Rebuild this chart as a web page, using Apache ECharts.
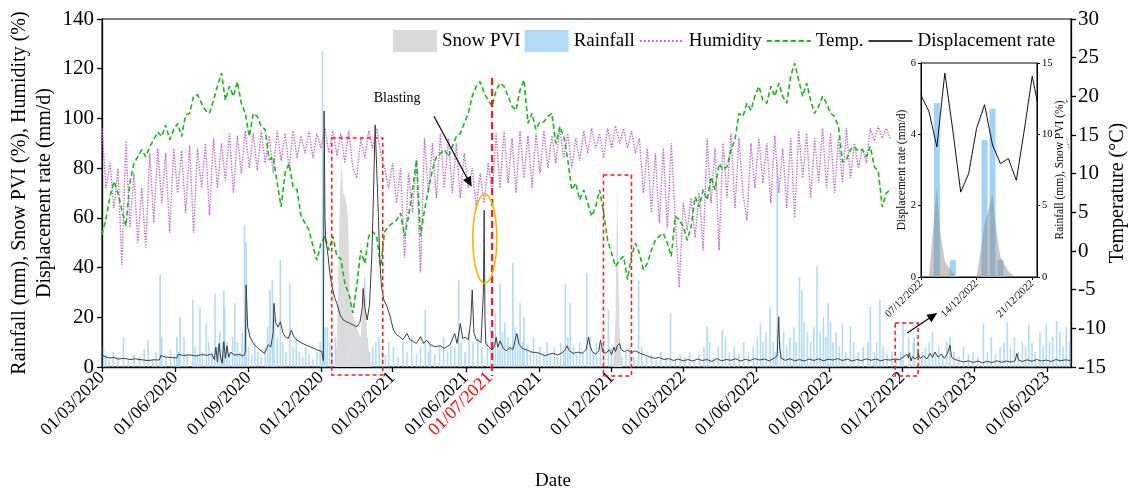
<!DOCTYPE html>
<html><head><meta charset="utf-8">
<script src="https://cdn.jsdelivr.net/npm/echarts@6/dist/echarts.min.js"></script>
<style>html,body{margin:0;padding:0;background:#fff}#c{width:1131px;height:492px}</style>
</head><body><div id="c"></div>
<script>
// ---------- DATA (day index d = days since 01/03/2020) ----------
const tempStep = 5; // Temperature (°C), one reading every 5 days from 01/03/2020
const tempVals = [
 2.1,4.2,7.0,9.0,7.5,5.3,3.2,8.8,11.3,12.2,
 13.1,12.2,13.5,14.4,15.4,14.8,16.3,14.4,15.7,16.5,
 14.8,17.6,17.8,20.0,20.2,19.1,18.2,17.8,19.5,21.3,
 23.0,19.5,21.3,20.0,21.9,19.1,17.8,14.8,17.8,17.4,
 16.1,15.7,11.8,12.2,8.8,5.7,10.1,11.3,8.3,7.9,
 4.5,3.6,2.7,0.6,-1.2,1.0,1.9,0.1,1.9,-0.7,
 -1.0,-4.2,-5.5,-8.0,-4.5,0.1,-1.6,1.9,2.5,1.9,
 -2.0,2.5,3.2,3.6,4.0,4.9,1.9,4.5,7.9,11.8,
 1.9,5.3,7.9,10.5,12.2,12.6,13.1,12.2,13.5,14.8,
 15.2,16.5,17.8,20.0,21.3,21.9,20.4,19.5,18.7,20.8,
 21.7,21.3,20.0,18.7,18.2,20.8,22.1,16.5,17.8,15.7,
 16.7,16.7,17.4,17.8,13.9,16.1,14.8,11.8,7.9,8.8,
 6.6,7.9,6.2,4.5,5.7,7.9,4.9,1.4,-0.3,-2.0,
 -1.2,-0.7,-3.7,-0.7,1.0,-0.3,-2.4,-1.6,0.1,1.4,
 1.9,2.3,1.0,-0.7,4.5,4.0,3.2,1.4,3.2,7.0,
 5.7,7.9,6.6,9.6,7.9,11.3,10.5,10.9,13.1,14.4,
 17.8,17.4,19.1,18.2,20.0,21.3,19.5,19.1,21.3,20.0,
 21.7,20.0,19.1,22.6,24.3,22.1,20.0,21.7,19.5,17.8,
 18.7,20.0,19.1,17.8,17.4,16.1,11.5,11.8,13.1,13.5,
 12.9,13.1,12.2,13.5,10.9,10.3,5.7,7.5,7.9
];
const tempTail = [[1200,17.6],[1205,18.8],[1210,19.6],[1215,18.9]];

const humStep = 5; // Humidity (%), one reading every 5 days
const humVals = [
 96,72,82,64,80,41,91,56,78,50,
 72,48,86,58,88,66,86,54,88,70,
 87,62,89,54,88,72,90,61,92,72,
 90,75,94,70,93,78,95,80,94,79,
 95,82,93,78,95,83,94,80,95,84,
 93,86,95,84,94,88,96,86,95,85,
 94,82,95,80,76,92,84,95,88,96,
 86,80,72,82,66,80,44,78,62,84,
 38,92,70,90,68,94,72,92,70,90,
 68,86,72,80,64,78,66,82,70,94,
 72,95,74,92,70,95,76,93,72,94,
 78,95,80,93,82,96,84,94,80,92,
 83,95,86,96,88,94,84,96,88,97,
 90,96,88,95,86,92,70,88,62,86,
 58,88,56,90,60,32,66,55,68,52,
 70,47,92,66,88,47,90,68,94,64,
 92,70,59,90,72,92,74,90,66,93,
 70,88,64,92,60,95,76,94,68,92,
 74,96,72,94,70,92,74,96,76,90,
 80,88,82,96,91,97,92,96,92
];
const humTail = [[1200,90],[1205,85],[1210,93],[1215,88]];

// Displacement rate (mm/d): [day, value]
const dispPts = [
 [0,4.8],[5,4.0],[10,3.6],[15,3.9],[20,3.2],[28,3.5],[35,3.0],[42,3.3],[50,2.9],[58,2.6],[65,2.9],[72,2.8],[74,4.6],[80,4.0],[88,3.8],[94,3.6],[96,5.2],[102,4.6],[110,4.9],[118,4.4],[125,5.0],[132,4.7],[138,5.2],[141,3.0],[143,8.0],[145,2.0],[147,9.5],[149,4.0],[151,1.5],[153,10.2],[155,3.5],[157,8.5],[159,4.0],[162,6.0],[166,4.8],[172,5.0],[178,4.5],[180,6.0],[181,33],[183,16],[186,12],[190,9.5],[195,7.8],[200,6.5],[204,5.5],[207,7.5],[209,9.0],[212,8.0],[215,14],[216,25.6],[218,18],[221,16],[224,18.2],[227,14],[230,12.2],[234,11.5],[238,14.9],[241,12],[245,10.8],[250,9.8],[255,9.0],[261,8.2],[266,7.5],[271,6.8],[276,6.2],[278,2.5],[279,103],[280,60],[281,51],[283,47],[284,44.4],[286,38],[289,32.3],[292,28],[295,25.6],[299,21],[303,18.9],[308,18],[312,17.5],[316,16.8],[320,16.2],[324,18],[327,24],[328,31.6],[330,24],[333,18.9],[336,25],[339,45.7],[341,70],[343,97.4],[345,80],[347,61.8],[349,42],[351,32.3],[354,27],[358,24.3],[362,20.2],[366,14.9],[370,13],[374,12.2],[378,11],[383,13.5],[387,11],[391,10.2],[395,9.5],[400,12.2],[404,9.5],[408,10.8],[412,9],[418,8.2],[425,8.5],[430,7.5],[437,9.0],[443,13.5],[446,9.5],[450,17.5],[453,11.5],[456,12],[460,11],[463,18],[465,31],[467,14],[470,11.0],[473,10.5],[476,9.8],[478,10],[479,30],[480,63.1],[481,20],[482,9.5],[486,8.0],[490,6.8],[493,8.5],[495,12],[497,8.0],[500,10.5],[504,7.5],[508,6.5],[512,7.8],[516,7.0],[521,13.5],[524,9.0],[528,7.5],[534,6.8],[540,6.0],[545,5.8],[550,5.5],[556,4.5],[562,5.2],[567,5.5],[572,4.8],[577,5.6],[581,6.5],[584,8.5],[587,6.5],[592,5.5],[598,6.0],[603,5.5],[608,7.0],[611,12],[613,8.5],[616,6.0],[620,5.2],[624,6.5],[626,10.8],[629,6.0],[633,5.5],[637,7.0],[640,5.0],[643,8.0],[645,6.2],[647,8.5],[650,9.5],[652,7.0],[656,6.2],[660,6.8],[665,5.8],[670,6.5],[676,5.5],[682,4.8],[688,4.0],[694,3.5],[700,3.8],[706,3.0],[712,3.4],[718,2.6],[724,3.2],[730,2.5],[736,3.0],[742,2.4],[748,3.2],[754,2.6],[760,3.0],[766,2.2],[772,3.4],[778,2.5],[784,3.0],[790,2.7],[796,3.3],[802,2.4],[808,3.1],[814,2.6],[820,3.4],[826,2.8],[832,3.2],[838,2.5],[844,3.5],[848,4.5],[850,20.2],[851,8],[853,3.5],[858,2.7],[864,3.3],[870,2.5],[876,3.0],[882,2.4],[888,3.2],[894,2.6],[900,3.3],[906,2.5],[912,3.1],[918,2.8],[924,3.4],[930,2.6],[936,3.2],[942,2.4],[948,3.0],[954,2.6],[960,3.3],[966,2.7],[972,3.2],[978,2.5],[984,3.0],[990,2.8],[996,3.2],[1002,2.9],[1006,4.0],[1008,3.5],
 [1028,3.5],[1032,4.5],[1036,3.2],[1040,5.5],[1043,3.8],[1046,6.0],[1048,6.8],[1050,4.0],[1054,5.2],[1058,3.5],[1062,5.5],[1065,8.8],[1067,4.0],[1071,3.0],[1076,2.6],[1082,2.0],[1088,2.5],[1094,1.8],[1100,2.4],[1106,1.7],[1112,2.3],[1118,1.8],[1124,2.5],[1130,1.9],[1136,2.4],[1142,2.0],[1147,2.6],[1149,5.5],[1151,2.8],[1156,2.2],[1162,2.9],[1168,2.3],[1174,3.0],[1180,2.4],[1186,2.8],[1192,2.2],[1198,3.0],[1204,2.5],[1210,2.9],[1216,2.6]
];

// Rainfall (mm): [day, value]
const rainPts = [
 [2,8],[5,5],[9,3],[14,6],[20,4],[27,12],[33,3],[40,5],[47,4],[53,7],[58,10.8],[64,3],[68,6],[73,37],[75,12],[80,4],[86,7],[91,5],[94,12],[96,6],[98,20],[103,12],[107,5],[114,27],[117,8],[120,5],[123,24],[126,6],[131,17.5],[134,10],[138,6],[142,29.6],[145,8],[148,14],[151,10],[153,31],[154,24],[157,10],[160,6],[164,12],[167,25.6],[170,10],[173,6],[176,14],[179,57],[181,50],[184,8],[188,5],[192,10],[196,6],[200,4],[205,8],[208,16],[211,31],[214,35],[216,20],[220,12],[224,43],[227,10],[231,6],[236,33.6],[240,8],[244,12],[248,6],[252,4],[256,8],[260,5],[265,3],[270,6],[274,10],[277,127],[278,30],[280,16],[283,16],[286,10],[289,6],[293,12],[297,8],[301,19],[305,10],[309,12],[313,6],[317,8],[321,14],[325,10],[330,36],[333,12],[336,6],[340,8],[344,10],[348,12],[352,6],[356,5],[360,10],[366,8],[372,4],[378,10],[383,6],[389,12],[395,5],[400,8],[406,22.9],[410,6],[412,10],[418,5],[424,8],[429,12],[434,6],[438,10],[443,8],[448,35],[451,10],[456,6],[461,14],[466,10],[472,12],[477,8],[484,10],[488,16],[491,14],[494,21.6],[497,10],[500,33.6],[503,14],[506,18],[510,12],[513,8],[516,41.7],[519,16],[522,12],[525,25.6],[528,10],[530,20],[534,8],[538,6],[542,12],[546,5],[550,8],[555,6],[559,10],[563,5],[568,8],[572,4],[576,10],[580,6],[582,33.6],[585,12],[588,25.6],[592,8],[596,5],[600,10],[604,6],[609,37.7],[613,12],[617,6],[621,10],[626,8],[630,12],[636,22.9],[640,8],[644,5],[648,10],[653,4],[658,6],[663,8],[668,4],[674,35],[678,8],[684,4],[690,5],[696,3],[702,6],[708,4],[714,21.6],[720,3],[726,5],[732,4],[738,6],[744,3],[750,5],[756,8],[760,16.2],[763,10],[768,4],[774,8],[779,14.9],[783,12],[788,6],[794,8],[800,5],[806,10],[812,6],[818,8],[823,12],[827,17.5],[830,10],[834,14],[839,24.3],[843,10],[846,6],[848,82],[852,10],[856,14],[860,8],[864,12],[869,16],[872,10],[876,36.3],[879,31],[882,18],[886,14],[890,10],[894,16],[898,40.3],[902,14],[906,20],[909,12],[912,25.6],[915,18],[918,10],[922,14],[926,8],[930,17.5],[934,6],[940,16.2],[944,10],[950,6],[956,8],[962,10],[965,24.3],[970,6],[973,10],[977,27],[981,8],[986,5],[992,6],[998,4],[1003,6],[1006,17.7],
 [1026,4],[1030,6],[1034,8],[1039,10],[1043,14],[1047,6],[1051,8],[1056,5],[1061,10],[1065,12],[1070,6],[1076,4],[1082,8],[1088,5],[1094,6],[1100,4],[1107,17.5],[1112,6],[1117,12],[1122,5],[1128,8],[1133,10],[1137,18],[1141,8],[1146,12],[1151,6],[1156,10],[1160,8],[1164,17],[1168,10],[1172,6],[1178,14],[1182,8],[1186,17.5],[1190,10],[1194,12],[1199,19],[1203,14],[1207,8],[1211,16],[1215,10]
];

// Snow PVI (%): [day, value]; null separates winters
const snowPts = [
 [292,0],[295,10],[297,40],[299,70],[301,83],[303,70],[306,68],[309,60],[311,30],[314,22],[318,18],[322,14],[325,12],[327,25],[329,34],[331,28],[333,12],[336,4],[339,0],[340,null],
 [642,0],[645,20],[647,74],[649,30],[651,8],[653,0],[654,null]
];

// Inset (December 2022), x = day of month
const insetDispDays = [7,8,9,10,11,12,13,14,15,16,17,18,19,20,21,22];
const insetDisp     = [5.1,4.64,3.65,5.72,4.12,2.38,2.9,4.17,4.83,3.7,3.18,3.32,2.71,4.12,5.63,4.5];
const insetRainDays = [9,11,15,16,17];
const insetRain     = [12.2,1.2,9.6,11.8,1.2];
const insetSnow = [[8,0],[9,6.4],[9.4,3.2],[10,1.1],[11,0.3],[11.3,0],[12,null],[14,0],[15,3.7],[16,5.8],[16.5,3.2],[17,1.4],[18,0.4],[18.8,0]];

// Axis ticks (year, month index)
const tickMonths = [[2020,2],[2020,5],[2020,8],[2020,11],[2021,2],[2021,5],[2021,8],[2021,11],[2022,2],[2022,5],[2022,8],[2022,11],[2023,2],[2023,5]];
const redMonth = [2021,6];
const insetTickDays = [7,14,21];

// Annotations (day, value)
const annoBoxes = [[288.6,352.6,92.1,-3.2],[629.8,665,77.2,-3.6],[996.2,1025,17.7,-3.6]];
const annoVLine = [490,116.3,-3.6];
const annoEllipse = [480.8,51.6];
const annoText = [370.6,108.2];
const annoArrows = [[[417,100.9],[464.3,72.5]],[[1011.3,13.7],[1049,21.7]]];

// ---------- BUILD ----------
const DAY = 86400000;
const T0 = new Date(2020,2,1).getTime();
const t = d => T0 + d*DAY;
const DEC0 = new Date(2022,11,0).getTime();
const td = k => DEC0 + k*DAY;     // inset day of December 2022
const decToD = k => 1004 + k;     // Dec k, 2022 -> main day index
const FONT = 'Liberation Serif';
const pad = n => (n<10?'0':'')+n;
const fmt = v => { const d=new Date(v+6*3600000); return pad(d.getDate())+'/'+pad(d.getMonth()+1)+'/'+d.getFullYear(); };
const val = v => (v===null ? '-' : v);

const tempData = tempVals.map((v,i)=>[t(i*tempStep),v]).concat([[t(995),'-']], tempTail.map(p=>[t(p[0]),p[1]]));
const humData  = humVals.map((v,i)=>[t(i*humStep),v]).concat([[t(995),'-']], humTail.map(p=>[t(p[0]),p[1]]));
const dispAll = dispPts.concat(insetDispDays.map((k,i)=>[decToD(k),insetDisp[i]])).sort((a,b)=>a[0]-b[0]);
const dispData = dispAll.map(p=>[t(p[0]),p[1]]);
const rainAll = rainPts.concat(insetRainDays.map((k,i)=>[decToD(k),insetRain[i]])).sort((a,b)=>a[0]-b[0]);
const rainData = rainAll.map(p=>[t(p[0]),p[1]]);
const snowData = snowPts.map(p=>[t(p[0]),val(p[1])]).concat([[t(1005),'-']], insetSnow.map(p=>[t(decToD(p[0])),val(p[1])]));

const tickTimes = tickMonths.map(m=>new Date(m[0],m[1],1).getTime());
const redTime = new Date(redMonth[0],redMonth[1],1).getTime();
const labelTimes = tickTimes.concat([redTime]).sort((a,b)=>a-b);

const chart = echarts.init(document.getElementById('c'), null, {renderer:'canvas', width:1131, height:492});

const BLACK = '#000';
const hideSym = {color:'rgba(0,0,0,0)', borderWidth:0, opacity:0};
const option = {
  animation:false,
  textStyle:{fontFamily:FONT, color:BLACK},
  legend:{
    left:388, top:25, itemWidth:44, itemHeight:22, itemGap:4,
    textStyle:{fontFamily:FONT, fontSize:19, color:BLACK},
    data:[
      {name:'Snow PVI', icon:'rect'},
      {name:'Rainfall', icon:'rect'},
      {name:'Humidity', itemStyle:hideSym},
      {name:'Temp.', itemStyle:hideSym},
      {name:'Displacement rate', itemStyle:hideSym}
    ]
  },
  grid:[
    {left:102, right:60, top:19, bottom:125, outerBoundsMode:'none', containLabel:false, show:true, borderColor:BLACK, borderWidth:1, backgroundColor:'transparent'},
    {left:921, top:63, width:116, height:214, outerBoundsMode:'none', containLabel:false, show:true, borderColor:BLACK, borderWidth:1, z:20}
  ],
  xAxis:[
    {type:'value', gridIndex:0, min:T0, max:new Date(2023,6,1).getTime(),
     axisLine:{lineStyle:{color:BLACK, width:1.3}},
     axisTick:{customValues:tickTimes, length:5, lineStyle:{color:BLACK, width:1.3}},
     axisLabel:{customValues:labelTimes, rotate:45, margin:8, fontSize:18, fontFamily:FONT, color:BLACK, hideOverlap:false,
       formatter:v=>{ const s=fmt(v); return Math.abs(v-redTime)<DAY ? '{r|'+s+'}' : s; },
       rich:{r:{color:'#ff0000', fontSize:18, fontFamily:FONT}}},
     splitLine:{show:false}},
    {type:'value', gridIndex:1, min:td(7), max:td(21)+0.6*DAY, z:21,
     axisLine:{lineStyle:{color:BLACK, width:1}},
     axisTick:{customValues:insetTickDays.map(td), length:3, lineStyle:{color:BLACK}},
     axisLabel:{customValues:insetTickDays.map(td), rotate:45, margin:5, fontSize:10.5, fontFamily:FONT, color:BLACK, hideOverlap:false, formatter:v=>fmt(v)},
     splitLine:{show:false}}
  ],
  yAxis:[
    {type:'value', gridIndex:0, min:0, max:140, interval:20, position:'left',
     name:'Rainfall (mm), Snow PVI (%), Humidity (%)\nDisplacement rate (mm/d)',
     nameLocation:'middle', nameGap:45, nameMoveOverlap:false, nameTextStyle:{fontFamily:FONT, fontSize:20, lineHeight:25, color:BLACK},
     axisLine:{show:true, lineStyle:{color:BLACK, width:1.3}},
     axisTick:{show:true, length:5, lineStyle:{color:BLACK, width:1.3}},
     axisLabel:{fontSize:21, margin:8, fontFamily:FONT, color:BLACK},
     splitLine:{show:false}},
    {type:'value', gridIndex:0, min:-15, max:30, interval:5, position:'right',
     name:'Temperature (°C)', nameLocation:'middle', nameGap:37, nameMoveOverlap:false,
     nameTextStyle:{fontFamily:FONT, fontSize:20, color:BLACK},
     axisLine:{show:true, lineStyle:{color:BLACK, width:1.3}},
     axisTick:{show:true, length:5, lineStyle:{color:BLACK, width:1.3}},
     axisLabel:{fontSize:21, margin:7, fontFamily:FONT, color:BLACK},
     splitLine:{show:false}},
    {type:'value', gridIndex:1, min:0, max:6, interval:2, position:'left', z:21,
     name:'Displacement rate (mm/d)', nameLocation:'middle', nameGap:13, nameMoveOverlap:false,
     nameTextStyle:{fontFamily:FONT, fontSize:11.5, color:BLACK},
     axisLine:{show:true, lineStyle:{color:BLACK}}, axisTick:{show:true, length:3, lineStyle:{color:BLACK}},
     axisLabel:{fontSize:10.5, margin:5, fontFamily:FONT, color:BLACK}, splitLine:{show:false}},
    {type:'value', gridIndex:1, min:0, max:15, interval:5, position:'right', z:21,
     name:'Rainfall (mm), Snow PVI (%)', nameLocation:'middle', nameGap:17, nameMoveOverlap:false,
     nameTextStyle:{fontFamily:FONT, fontSize:11.5, color:BLACK},
     axisLine:{show:true, lineStyle:{color:BLACK}}, axisTick:{show:true, length:3, lineStyle:{color:BLACK}},
     axisLabel:{fontSize:10.5, margin:5, fontFamily:FONT, color:BLACK}, splitLine:{show:false}}
  ],
  series:[
    {name:'Rainfall', type:'bar', xAxisIndex:0, yAxisIndex:0, data:rainData, barWidth:1.6, z:2,
     color:'#a9d7f6', itemStyle:{color:'#a9d7f6', opacity:0.9}},
    {name:'Snow PVI', type:'line', xAxisIndex:0, yAxisIndex:0, data:snowData, symbol:'none', connectNulls:false, z:3,
     color:'#d9d9d9', lineStyle:{width:0, color:'#d9d9d9'}, itemStyle:{color:'#d9d9d9'}, areaStyle:{color:'#d9d9d9', opacity:0.95}},
    {name:'Humidity', type:'line', xAxisIndex:0, yAxisIndex:0, data:humData, symbol:'none', z:4,
     color:'#c267d8', lineStyle:{color:'#c267d8', width:1.4, type:'dotted'}},
    {name:'Temp.', type:'line', xAxisIndex:0, yAxisIndex:1, data:tempData, symbol:'none', z:5,
     color:'#1fb11f', lineStyle:{color:'#1fb11f', width:1.6, type:[5,3]}},
    {name:'Displacement rate', type:'line', xAxisIndex:0, yAxisIndex:0, data:dispData, symbol:'none', z:6,
     color:'#3c3c3c', lineStyle:{color:'#3c3c3c', width:1}},
    // inset
    {name:'insetRain', type:'bar', xAxisIndex:1, yAxisIndex:3, barWidth:6, z:22,
     data:insetRainDays.map((k,i)=>[td(k),insetRain[i]]), itemStyle:{color:'#9fd3f7'}},
    {name:'insetSnow', type:'line', xAxisIndex:1, yAxisIndex:3, symbol:'none', z:23, connectNulls:false,
     data:insetSnow.map(p=>[td(p[0]),val(p[1])]), lineStyle:{width:0}, areaStyle:{color:'rgba(140,140,140,0.7)'}},
    {name:'insetDisp', type:'line', xAxisIndex:1, yAxisIndex:2, symbol:'none', z:24,
     data:insetDispDays.map((k,i)=>[td(k),insetDisp[i]]), lineStyle:{color:'#111', width:1}}
  ]
};
chart.setOption(option);

// ---------- ANNOTATIONS ----------
const px = (d,v) => chart.convertToPixel({xAxisIndex:0, yAxisIndex:0}, [t(d), v]);
const RED = '#ff1a1a';
const g = [];
g.push({type:'rect', z:10, shape:{x:893, y:55, width:173, height:266}, style:{fill:'#fff'}});
annoBoxes.forEach(b=>{
  const p1 = px(b[0],b[2]), p2 = px(b[1],b[3]);
  g.push({type:'rect', z:30, shape:{x:p1[0], y:p1[1], width:p2[0]-p1[0], height:p2[1]-p1[1]},
    style:{fill:'none', stroke:RED, lineWidth:1.5, lineDash:[4,3]}});
});
{
  const a = px(annoVLine[0],annoVLine[1]), b = px(annoVLine[0],annoVLine[2]);
  g.push({type:'line', z:30, shape:{x1:a[0],y1:a[1],x2:b[0],y2:b[1]}, style:{stroke:RED, lineWidth:2.2, lineDash:[7,4]}});
}
{
  const c = px(annoEllipse[0],annoEllipse[1]);
  g.push({type:'ellipse', z:30, shape:{cx:c[0], cy:c[1], rx:12, ry:44.5}, style:{fill:'none', stroke:'#f7b500', lineWidth:1.6}});
}
{
  const p = px(annoText[0],annoText[1]);
  g.push({type:'text', z:30, x:p[0], y:p[1], style:{text:'Blasting', fill:BLACK, font:'14px "Liberation Serif"', align:'center', verticalAlign:'middle'}});
}
annoArrows.forEach(ar=>{
  const p1 = px(ar[0][0],ar[0][1]), p2 = px(ar[1][0],ar[1][1]);
  const a = Math.atan2(p2[1]-p1[1], p2[0]-p1[0]);
  const L = 10, W = 4.5;
  const b = [p2[0]-L*Math.cos(a), p2[1]-L*Math.sin(a)];
  const l = [b[0]+W*Math.sin(a), b[1]-W*Math.cos(a)], r = [b[0]-W*Math.sin(a), b[1]+W*Math.cos(a)];
  g.push({type:'line', z:30, shape:{x1:p1[0],y1:p1[1],x2:b[0],y2:b[1]}, style:{stroke:BLACK, lineWidth:1.2}});
  g.push({type:'polygon', z:30, shape:{points:[p2,l,r]}, style:{fill:BLACK}});
});
g.push({type:'text', z:30, x:553, y:481, style:{text:'Date', fill:BLACK, font:'19px "Liberation Serif"', align:'center', verticalAlign:'middle'}});
chart.setOption({graphic:g});
</script>
</body></html>
